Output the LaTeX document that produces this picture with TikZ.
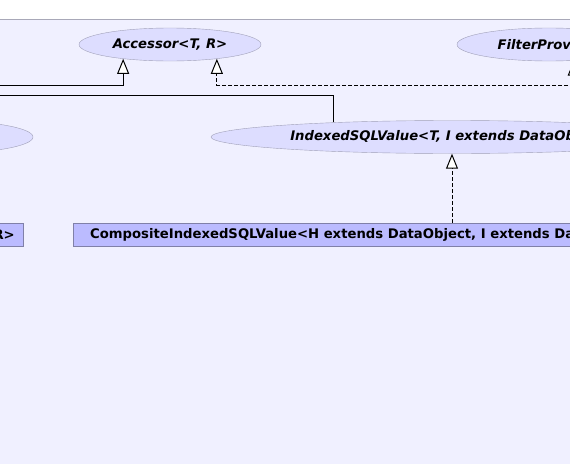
\documentclass[tikz,border=0pt]{standalone}
\usepackage{fontspec}
\setmainfont{DejaVu Sans}
\usepackage{tikz}
\usetikzlibrary{arrows.meta, shapes.geometric}

\definecolor{bgfill}{HTML}{F0F0FF}
\definecolor{frameline}{HTML}{A8A8B8}
\definecolor{ellfill}{HTML}{DDDDFF}
\definecolor{ellline}{HTML}{A0A0B8}
\definecolor{boxfill}{HTML}{BBBBFF}
\definecolor{boxline}{HTML}{8080A8}
\newcommand{\umlfont}{\fontsize{13.2pt}{15pt}\selectfont}

\begin{document}
\begin{tikzpicture}[x = 1pt, y = -1pt,
		cls/.style = {ellipse, draw = ellline, fill = ellfill, inner sep = 0pt, minimum height = 33pt, font = \umlfont\bfseries\itshape},
		impl/.style = {rectangle, draw = boxline, fill = boxfill, minimum height = 23pt, inner xsep = 17pt, font = \umlfont\bfseries},
		extends/.style = {-{Triangle[width = 12pt, length = 15pt, fill = white]}, line width = 1pt},
		realizes/.style = {extends, dash pattern = on 4pt off 2pt}]
	\useasboundingbox (0,0) rectangle (570,463);
	\clip (0,0) rectangle (570,463);
	\draw[draw = frameline, fill = bgfill] (-5,19) rectangle (580,470);
	
	\node[cls, minimum width = 182pt] (acc) at (170,44.5) {Accessor<T, R>};
	\node[cls, minimum width = 184pt] (fp) at (549,44.5) {FilterProvider};
	\node[cls, minimum width = 186pt] (lft) at (-60,137) {};
	\node[cls, minimum width = 482pt] (isv) at (452,137) {IndexedSQLValue<T, I extends DataObject>};
	\node[impl, anchor = east, text width = 150pt, align = right, inner xsep = 8pt] (lbox) at (23,234.5) {R>};
	\node[impl, anchor = west] (cisv) at (73,234.5) {CompositeIndexedSQLValue<H extends DataObject, I extends DataObject>};
	
	\coordinate (wa) at (-20,85);
	\coordinate (wb) at (-20,95);
	\coordinate (ea) at (640,85);
	
	\draw[extends] (wa) -| (acc.197.4);
	\draw[realizes] (ea) -| (acc.-17.7);
	\draw[realizes] (ea) -| (fp.-33.6);
	\draw[line width = 1pt] (isv.173.2) |- (wb);
	\draw[realizes] (cisv.north -| isv.south) -- (isv.south);
\end{tikzpicture}
\end{document}
